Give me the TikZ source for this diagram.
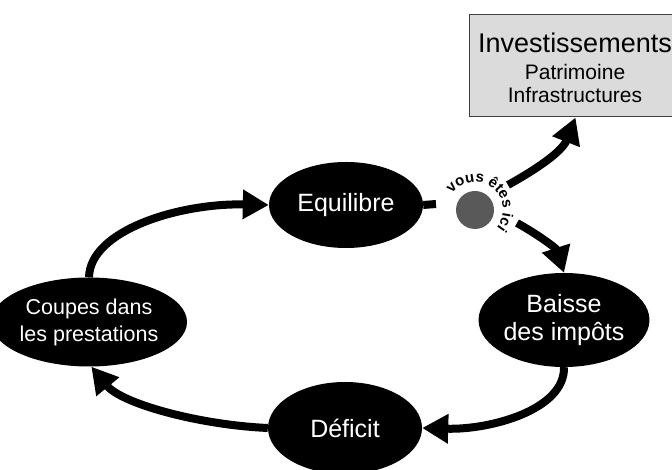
\documentclass[tikz,border=0pt]{standalone}
\usepackage{fontspec}
\setmainfont{Liberation Sans}
\usetikzlibrary{shapes.geometric,arrows.meta,decorations.text}
\begin{document}
\begin{tikzpicture}[x=1pt,y=1pt,
 blob/.style={ellipse,fill=black,text=white,inner sep=0pt,minimum width=154pt,minimum height=86pt,align=center,font=\fontsize{25}{28}\selectfont},
 flow/.style={line width=8pt,-{Triangle[length=26pt,width=28pt]}},
 boxtext/.style={inner sep=0pt,anchor=center},
]
\useasboundingbox (0,0) rectangle (672,470);
\node[blob] (equ) at (346,265) {Equilibre};
\node[blob,minimum height=94pt] (bai) at (564,150) {Baisse\\des impôts};
\node[blob,minimum height=92pt] (def) at (345,42) {Déficit};
\node[blob,minimum width=164pt,minimum height=89pt,font=\fontsize{21.5}{27}\selectfont] (cou) at (89,148) {Coupes dans\\les prestations};
\node[draw=black!75,fill=black!14,line width=1pt,minimum width=207pt,minimum height=102pt,inner sep=0pt] (inv) at (572.5,404) {};
\node[boxtext,font=\fontsize{27}{27}\selectfont] (inv1) at (575,427) {Investissements};
\node[boxtext,font=\fontsize{21}{21}\selectfont] (inv2) at (575,398) {Patrimoine};
\node[boxtext,font=\fontsize{21}{21}\selectfont] (inv3) at (575,375) {Infrastructures};
\node[circle,fill=black!65,minimum size=38pt,inner sep=0pt] (here) at (475,260) {};
\coordinate (stubend) at (436,266);
\coordinate (s1) at (508,285);
\coordinate (s2) at (517,247);
\draw[line width=8pt] (equ.east) -- (stubend);
\draw[flow] (s1) .. controls (535,300) and (562,318) .. ([xshift=3pt]inv.south);
\draw[flow] (s2) .. controls (537,236) and (556,222) .. (bai.north);
\draw[flow] (bai.south) .. controls (565,60) and (490,40) .. (def.east);
\draw[flow] (def.west) .. controls (200,45) and (122,66) .. (cou.-87);
\draw[flow] (cou.north) .. controls (90,240) and (180,267) .. (equ.west);
\path[decorate,decoration={text along path,text align=center,text={|\bfseries\fontsize{15}{15}\selectfont|vous êtes ici}}] (here.center) ++(150:28) arc[start angle=150,end angle=-45,radius=28];
\end{tikzpicture}
\end{document}
